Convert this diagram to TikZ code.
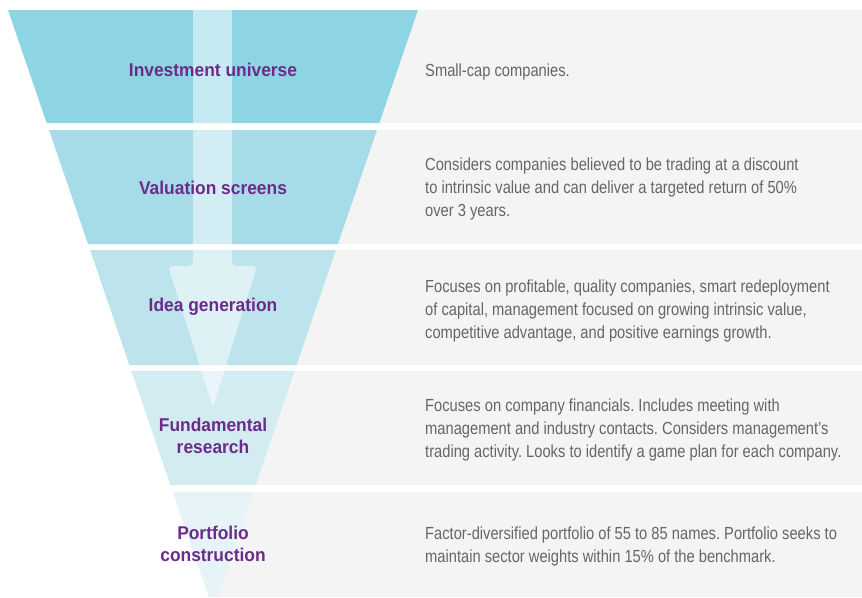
\documentclass[tikz,border=0pt]{standalone}
\usepackage{fontspec}
\setmainfont{Liberation Sans}
\newfontfamily\descfont{Liberation Sans}[FakeStretch=0.84]
\newfontfamily\labfont{Liberation Sans}[FakeStretch=0.94]
\definecolor{fA}{RGB}{142,213,227}
\definecolor{fB}{RGB}{166,220,232}
\definecolor{fC}{RGB}{189,228,236}
\definecolor{fD}{RGB}{211,236,242}
\definecolor{fE}{RGB}{230,244,248}
\definecolor{panelgray}{RGB}{244,244,244}
\definecolor{descgray}{RGB}{102,102,102}
\definecolor{labpurple}{RGB}{108,43,138}
\frenchspacing
\begin{document}
\begin{tikzpicture}[x=1pt,y=-1pt,
  panel/.style={fill=panelgray, draw=none},
  arrowband/.style={fill=white, fill opacity=0.5, draw=none, rounded corners=4pt},
  desc/.style={anchor=base west, inner sep=0pt, align=left, text=descgray,
    font=\descfont\frenchspacing\fontsize{17.5}{23}\selectfont},
  lab/.style={anchor=base, inner sep=0pt, align=center, text=labpurple,
    font=\labfont\bfseries\fontsize{18.5}{22.5}\selectfont}]
\fill[white] (0,0) rectangle (862,597);
\useasboundingbox (0,0) rectangle (862,597);
% gray panels
\fill[panel] (213,10) rectangle (862,123);
\fill[panel] (213,130) rectangle (862,244);
\fill[panel] (213,250) rectangle (862,365);
\fill[panel] (213,371) rectangle (862,485);
\fill[panel] (213,492) rectangle (862,597);
% funnel segments
\fill[fA] (8,10) -- (418,10) -- (379.35,123) -- (46.65,123) -- cycle;
\fill[fB] (49.04,130) -- (376.96,130) -- (337.97,244) -- (88.03,244) -- cycle;
\fill[fC] (90.08,250) -- (335.92,250) -- (296.59,365) -- (129.41,365) -- cycle;
\fill[fD] (131.46,371) -- (294.54,371) -- (255.55,485) -- (170.45,485) -- cycle;
\fill[fE] (172.84,492) -- (253.16,492) -- (217.25,597) -- (208.75,597) -- cycle;
% downward arrow
\fill[arrowband] (193,-10) -- (193,266) -- (168,266) -- (213,407) -- (257,266) -- (232,266) -- (232,-10) -- cycle;
% labels (anchor = baseline of the last line)
\node[lab] (l1) at (213,76) {Investment universe};
\node[lab] (l2) at (213,194.3) {Valuation screens};
\node[lab] (l3) at (213,311.7) {Idea generation};
\node[lab] (l4) at (213,453.8) {Fundamental\\research};
\node[lab] (l5) at (213,561.8) {Portfolio\\construction};
% descriptions (anchor = baseline of the last line)
\node[desc] (d1) at (425,76) {Small-cap companies.};
\node[desc] (d2) at (425,216.7) {Considers companies believed to be trading at a discount\\to intrinsic value and can deliver a targeted return of 50\%\\over 3 years.};
\node[desc] (d3) at (425,338) {Focuses on profitable, quality companies, smart redeployment\\of capital, management focused on growing intrinsic value,\\competitive advantage, and positive earnings growth.};
\node[desc] (d4) at (425,457) {Focuses on company financials. Includes meeting with\\management and industry contacts. Considers management’s\\trading activity. Looks to identify a game plan for each company.};
\node[desc] (d5) at (425,562) {Factor-diversified portfolio of 55 to 85 names. Portfolio seeks to\\maintain sector weights within 15\% of the benchmark.};
\end{tikzpicture}
\end{document}
